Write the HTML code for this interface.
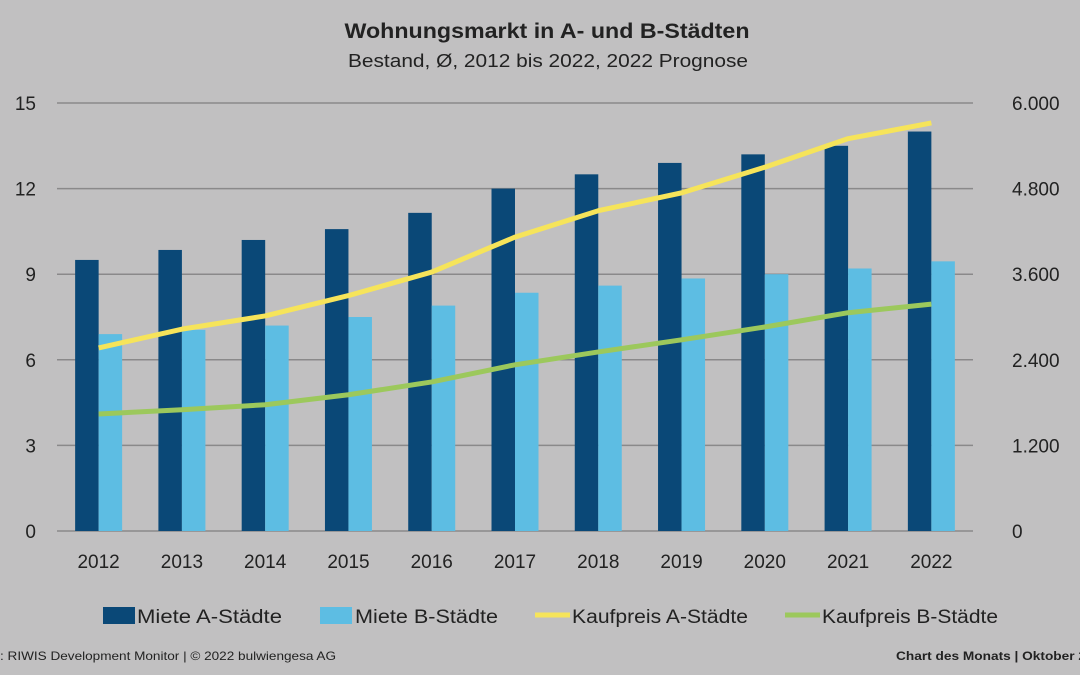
<!DOCTYPE html>
<html><head><meta charset="utf-8"><style>
html,body{margin:0;padding:0;background:#c1c0c1;}
svg{display:block;font-family:"Liberation Sans",sans-serif;}
</style></head><body>
<svg id="chart" width="1080" height="675" viewBox="0 0 1080 675">
<rect width="1080" height="675" fill="#c1c0c1"/>
<text x="547" y="38" text-anchor="middle" font-size="21" font-weight="bold" fill="#222" textLength="405" lengthAdjust="spacingAndGlyphs">Wohnungsmarkt in A- und B-Städten</text>
<text x="548" y="67" text-anchor="middle" font-size="18" fill="#222" textLength="400" lengthAdjust="spacingAndGlyphs">Bestand, Ø, 2012 bis 2022, 2022 Prognose</text>
<g id="grid"></g><g id="bars"></g><g id="lines"></g><g id="axes"></g>
<g>
<rect x="103" y="607" width="32" height="17" fill="#0a4877"/>
<text x="137" y="623" font-size="19" fill="#222" textLength="145" lengthAdjust="spacingAndGlyphs">Miete A-Städte</text>
<rect x="320" y="607" width="32" height="17" fill="#5dbde3"/>
<text x="355" y="623" font-size="19" fill="#222" textLength="143" lengthAdjust="spacingAndGlyphs">Miete B-Städte</text>
<line x1="535" y1="615" x2="570" y2="615" stroke="#f6e45a" stroke-width="5"/>
<text x="572" y="623" font-size="19" fill="#222" textLength="176" lengthAdjust="spacingAndGlyphs">Kaufpreis A-Städte</text>
<line x1="785" y1="615" x2="820" y2="615" stroke="#9cc85c" stroke-width="5"/>
<text x="822" y="623" font-size="19" fill="#222" textLength="176" lengthAdjust="spacingAndGlyphs">Kaufpreis B-Städte</text>
</g>
<text x="0" y="660" font-size="12" fill="#222" textLength="336" lengthAdjust="spacingAndGlyphs">: RIWIS Development Monitor | © 2022 bulwiengesa AG</text>
<text x="896" y="660" font-size="12" font-weight="bold" fill="#222" textLength="190" lengthAdjust="spacingAndGlyphs">Chart des Monats | Oktober 2</text>
</svg>
<script>
const categories=["2012","2013","2014","2015","2016","2017","2018","2019","2020","2021","2022"];
const mieteA=[9.5,9.85,10.2,10.58,11.15,12.0,12.5,12.9,13.2,13.5,14.0];
const mieteB=[6.9,7.05,7.2,7.5,7.9,8.35,8.6,8.85,9.0,9.2,9.45];
const kaufA=[2566,2830,3015,3300,3630,4120,4490,4740,5100,5500,5720];
const kaufB=[1640,1700,1770,1910,2090,2330,2510,2680,2860,3060,3180];
const leftTicks=[0,3,6,9,12,15];
const rightTicks=["0","1.200","2.400","3.600","4.800","6.000"];
const rightTickVals=[0,1200,2400,3600,4800,6000];

const NS="http://www.w3.org/2000/svg";
const X0=57,X1=973,Y0=531,Y1=103;
const bw=(X1-X0)/categories.length;
const yL=v=>Y0-(v/15)*(Y0-Y1);
const yR=v=>Y0-(v/6000)*(Y0-Y1);
const xC=i=>X0+bw*(i+0.5);
function mk(tag,attrs,parent){const e=document.createElementNS(NS,tag);for(const k in attrs)e.setAttribute(k,attrs[k]);document.getElementById(parent).appendChild(e);return e;}

leftTicks.forEach((t,i)=>{
  const g=mk("line",{x1:X0,x2:X1,y1:yL(t),y2:yL(t),stroke:"#8a898a","stroke-width":1.5},"grid");
  
  
  const l=mk("text",{x:36,y:yL(t)+7,"text-anchor":"end","font-size":19,fill:"#222"},"axes");
  l.textContent=t;
  
  
});
rightTickVals.forEach((v,i)=>{
  const l=mk("text",{x:1012,y:yR(v)+7,"text-anchor":"start","font-size":19,fill:"#222"},"axes");
  l.textContent=rightTicks[i];
  
  
});
categories.forEach((c,i)=>{
  const cx=xC(i);
  const a=mk("rect",{x:cx-23.5,y:yL(mieteA[i]),width:23.5,height:Y0-yL(mieteA[i]),fill:"#0a4877"},"bars");
  
  
  const b=mk("rect",{x:cx,y:yL(mieteB[i]),width:23.5,height:Y0-yL(mieteB[i]),fill:"#5dbde3"},"bars");
  
  
  const l=mk("text",{x:cx,y:568,"text-anchor":"middle","font-size":19,fill:"#222"},"axes");
  l.textContent=c;
  
  
});
const pa=mk("polyline",{points:kaufA.map((v,i)=>xC(i)+","+yR(v)).join(" "),fill:"none",stroke:"#f6e45a","stroke-width":5,"stroke-linejoin":"round"},"lines");


const pb=mk("polyline",{points:kaufB.map((v,i)=>xC(i)+","+yR(v)).join(" "),fill:"none",stroke:"#9cc85c","stroke-width":5,"stroke-linejoin":"round"},"lines");


</script>
</body></html>
